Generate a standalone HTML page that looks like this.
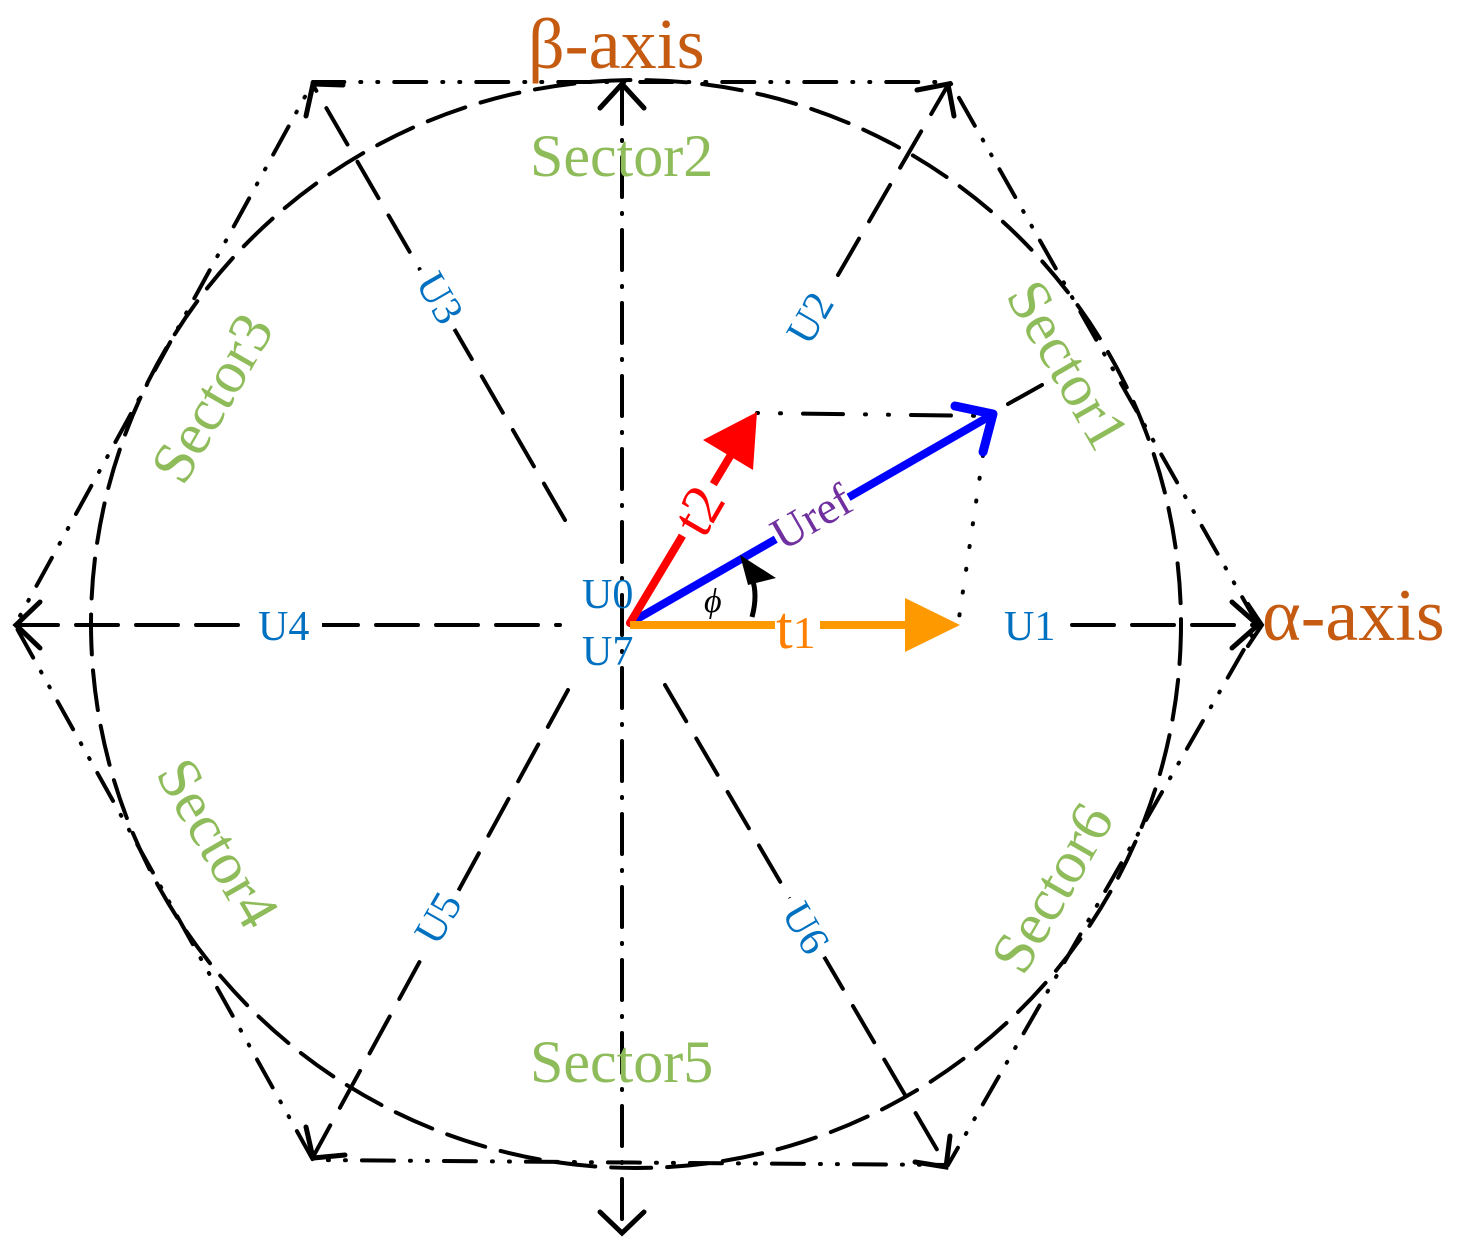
<!DOCTYPE html>
<html><head><meta charset="utf-8"><style>
html,body{margin:0;padding:0;background:#fff;}
svg{display:block;}
text{font-family:"Liberation Serif",serif;}
</style></head><body>
<svg width="1463" height="1256" viewBox="0 0 1463 1256" xmlns="http://www.w3.org/2000/svg">
<g fill="none" stroke="#000" stroke-linecap="round">
 <ellipse cx="636" cy="624" rx="545" ry="544" stroke-width="4" stroke-dasharray="40 16"/>
 <polygon points="1258,625 950,82 313,82 15,625 313,1160 948,1165" stroke-width="4" stroke-dasharray="32 16 1 16 1 16"/>
 <line x1="622" y1="84" x2="622" y2="1228" stroke-width="4" stroke-dasharray="40 16 1 16"/>
 <polyline points="600,108 622,84 644,108" stroke-width="5"/>
 <polyline points="600,1212 622,1233 644,1212" stroke-width="5"/>
 <line x1="16" y1="625" x2="560" y2="625" stroke-width="4" stroke-dasharray="42 18"/>
 <line x1="1072" y1="625" x2="1258" y2="625" stroke-width="4" stroke-dasharray="42 18"/>
 <polyline points="40,602 16,625 40,648" stroke-width="5"/>
 <polyline points="1232,602 1258,625 1232,648" stroke-width="5"/>
 <polyline points="1248,604 1262,625 1248,646" stroke-width="4"/>
 <line x1="838" y1="275" x2="948" y2="85" stroke-width="4" stroke-dasharray="42 20"/>
 <polyline points="917,90 948,84 954,116" stroke-width="5"/>
 <line x1="565" y1="520" x2="313" y2="85" stroke-width="4" stroke-dasharray="42 20"/>
 <polyline points="343,85 313,84 306,116" stroke-width="5"/>
 <line x1="568" y1="690" x2="313" y2="1157" stroke-width="4" stroke-dasharray="42 20"/>
 <polyline points="306,1127 313,1158 345,1155" stroke-width="5"/>
 <line x1="665" y1="685" x2="946" y2="1165" stroke-width="4" stroke-dasharray="42 20"/>
 <polyline points="915,1162 946,1167 950,1136" stroke-width="5"/>
 <line x1="757" y1="413" x2="990" y2="416" stroke-width="4" stroke-dasharray="1 22 1 22 40 22"/>
 <line x1="983" y1="455" x2="958" y2="625" stroke-width="4" stroke-dasharray="1 22"/>
 <line x1="1008" y1="404" x2="1042" y2="385" stroke-width="4"/>
</g>
<line x1="630" y1="623" x2="990" y2="416" stroke="#0000ff" stroke-width="8" stroke-linecap="round"/>
<polyline points="955,406 993,414 983,452" fill="none" stroke="#0000ff" stroke-width="9" stroke-linecap="round" stroke-linejoin="round"/>
<line x1="630" y1="623" x2="735" y2="448" stroke="#ff0000" stroke-width="8" stroke-linecap="round"/>
<polygon points="757,412 753,470 703,440" fill="#ff0000"/>
<line x1="630" y1="625" x2="775" y2="625" stroke="#ff9900" stroke-width="8"/>
<line x1="820" y1="625" x2="915" y2="625" stroke="#ff9900" stroke-width="8"/>
<polygon points="960,625 905,598 905,652" fill="#ff9900"/>
<path d="M752,617 Q758,595 752,578" fill="none" stroke="#000" stroke-width="5"/>
<polygon points="740,555 776,578 748,585" fill="#000"/>
<text x="704" y="612" font-size="34" font-style="italic">ϕ</text>
<!-- white backgrounds -->
<g fill="#fff">
 <rect x="252" y="605" width="70" height="40"/>
 <rect x="998" y="605" width="64" height="40"/>
 <rect x="-34" y="-20" width="68" height="40" transform="translate(440,298) rotate(60)"/>
 <rect x="-34" y="-20" width="68" height="40" transform="translate(810,318) rotate(-60)"/>
 <rect x="-34" y="-20" width="68" height="40" transform="translate(438,918) rotate(-60)"/>
 <rect x="-34" y="-20" width="68" height="40" transform="translate(806,928) rotate(60)"/>
 <rect x="-42" y="-18" width="84" height="36" transform="translate(812,518) rotate(-30)"/>
 <rect x="-30" y="-20" width="60" height="40" transform="translate(698,510) rotate(-60)"/>
</g>
<text x="528" y="68" font-size="72" fill="#c55a11">β-axis</text>
<text x="1262" y="640" font-size="74" fill="#c55a11">α-axis</text>
<g font-size="60" fill="#8fbc5a">
 <text x="530" y="176">Sector2</text>
 <text x="530" y="1082">Sector5</text>
 <text transform="translate(1068,365) rotate(60)" text-anchor="middle" dy="20">Sector1</text>
 <text transform="translate(212,398) rotate(-60)" text-anchor="middle" dy="20">Sector3</text>
 <text transform="translate(218,843) rotate(60)" text-anchor="middle" dy="20">Sector4</text>
 <text transform="translate(1052,888) rotate(-60)" text-anchor="middle" dy="20">Sector6</text>
</g>
<g font-size="42" fill="#0070c0">
 <text x="582" y="608">U0</text>
 <text x="582" y="665">U7</text>
 <text x="258" y="640">U4</text>
 <text x="1004" y="640">U1</text>
 <text transform="translate(440,298) rotate(60)" text-anchor="middle" dy="14">U3</text>
 <text transform="translate(810,318) rotate(-60)" text-anchor="middle" dy="14">U2</text>
 <text transform="translate(438,918) rotate(-60)" text-anchor="middle" dy="14">U5</text>
 <text transform="translate(806,928) rotate(60)" text-anchor="middle" dy="14">U6</text>
</g>
<text transform="translate(812,518) rotate(-30)" text-anchor="middle" dy="14" font-size="46" fill="#7030a0">Uref</text>
<text transform="translate(698,510) rotate(-60)" text-anchor="middle" dy="20" font-size="58" fill="#ff0000">t2</text>
<text x="776" y="648" font-size="60" fill="#ff8000">t<tspan font-size="46">1</tspan></text>
</svg>
</body></html>
